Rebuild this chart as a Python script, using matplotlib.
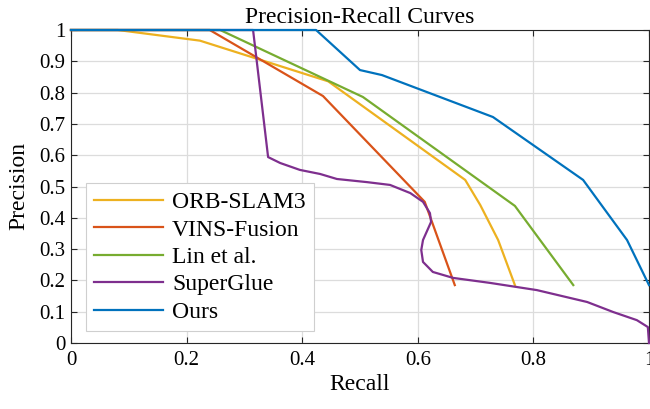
import matplotlib
matplotlib.use('Agg')
import matplotlib.pyplot as plt
import numpy as np

plt.rcParams['font.family'] = ['Liberation Serif', 'DejaVu Serif']

# values
orb_r = [0.0, 0.081, 0.223, 0.445, 0.682, 0.708, 0.739, 0.768]
orb_p = [1.0, 1.0, 0.966, 0.836, 0.521, 0.441, 0.329, 0.185]

vins_r = [0.0, 0.24, 0.436, 0.612, 0.664]
vins_p = [1.0, 1.0, 0.789, 0.451, 0.185]

lin_r = [0.0, 0.258, 0.505, 0.768, 0.869]
lin_p = [1.0, 1.0, 0.786, 0.438, 0.185]

sg_r = [0.0, 0.315, 0.341, 0.362, 0.396, 0.431, 0.460, 0.512, 0.552, 0.587, 0.609,
        0.621, 0.623, 0.609, 0.606, 0.609, 0.626, 0.661, 0.725, 0.806, 0.893,
        0.938, 0.979, 0.998, 1.0]
sg_p = [1.0, 1.0, 0.594, 0.575, 0.553, 0.540, 0.524, 0.514, 0.505, 0.479, 0.451,
        0.415, 0.387, 0.329, 0.297, 0.259, 0.227, 0.208, 0.192, 0.169, 0.131,
        0.099, 0.073, 0.051, 0.0]

ours_r = [0.0, 0.424, 0.5, 0.538, 0.730, 0.886, 0.920, 0.962, 1.0]
ours_p = [1.0, 1.0, 0.872, 0.856, 0.722, 0.521, 0.435, 0.329, 0.185]

labels = ['ORB-SLAM3', 'VINS-Fusion', 'Lin et al.', 'SuperGlue', 'Ours']
colors = ['#EDB120', '#D95319', '#77AC30', '#7E2F8E', '#0072BD']

fig = plt.figure(figsize=(6.5, 4.09), dpi=100)
ax = fig.add_axes([71/650, 1-343/409, 578/650, 313/409])

series = [(orb_r, orb_p), (vins_r, vins_p), (lin_r, lin_p), (sg_r, sg_p), (ours_r, ours_p)]
for (r, p), lab, c in zip(series, labels, colors):
    ax.plot(r, p, color=c, lw=1.6, label=lab, clip_on=False, zorder=3)

ax.set_xlim(0, 1)
ax.set_ylim(0, 1)
ax.set_xticks(np.arange(0, 1.01, 0.2))
ax.set_xticklabels(['0', '0.2', '0.4', '0.6', '0.8', '1'])
ax.set_yticks(np.arange(0, 1.01, 0.1))
ax.set_yticklabels(['0'] + ['%.1f' % v for v in np.arange(0.1, 0.95, 0.1)] + ['1'])
ax.grid(True, color='#dcdcdc', lw=0.9)
ax.set_axisbelow(True)
ax.tick_params(direction='in', top=True, right=True, labelsize=15, length=4,
               color='#262626')
ax.tick_params(axis='x', pad=6)
ax.tick_params(axis='y', pad=4)
for s in ax.spines.values():
    s.set_color('#262626')
    s.set_linewidth(0.8)

ax.set_xlabel('Recall', fontsize=17, labelpad=3)
ax.set_ylabel('Precision', fontsize=17, labelpad=7)
ax.set_title('Precision-Recall Curves', fontsize=17, pad=5)

leg = ax.legend(loc='lower left', bbox_to_anchor=(0.026, 0.038), fontsize=17,
                frameon=True, fancybox=False, handlelength=2.9, borderpad=0.35,
                labelspacing=0.25, handletextpad=0.4, borderaxespad=0)
leg.get_frame().set_edgecolor('#cfcfcf')
leg.get_frame().set_linewidth(0.8)
leg.get_frame().set_alpha(1)

fig.savefig('out.png', dpi=100)
